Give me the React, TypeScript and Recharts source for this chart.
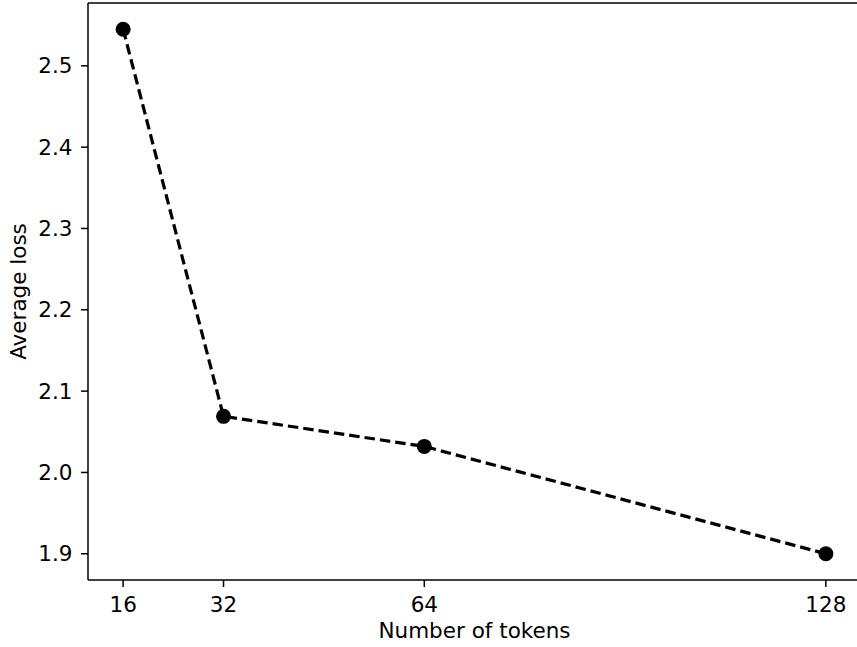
import React from 'react';
import { LineChart, Line, XAxis, YAxis, ReferenceLine } from 'recharts';

const tokens = [16, 32, 64, 128];
const avgLoss = [2.545, 2.069, 2.032, 1.9];
const xTicks = [16, 32, 64, 128];
const yTicks = [1.9, 2.0, 2.1, 2.2, 2.3, 2.4, 2.5];

const data = tokens.map((t, i) => ({ tokens: t, loss: avgLoss[i] }));

const FONT = 'DejaVu Sans';
const FS = 21.5;

const xMin = Math.min(...tokens);
const xMax = Math.max(...tokens);
const xPad = (xMax - xMin) * 0.05;
const yMin = Math.min(...avgLoss);
const yMax = Math.max(...avgLoss);
const yPad = (yMax - yMin) * 0.05;
const yTop = yMax + yPad;

const tickStyle = { fill: '#000', fontSize: FS, fontFamily: FONT };

const YLabel = (props: any) => {
  const vb = props.viewBox || {};
  const cy = vb.y + vb.height / 2;
  const x = 26;
  return (
    <text
      x={x}
      y={cy}
      transform={`rotate(-90, ${x}, ${cy})`}
      textAnchor="middle"
      fontSize={FS}
      fontFamily={FONT}
      fill="#000"
    >
      Average loss
    </text>
  );
};

const XLabel = (props: any) => {
  const vb = props.viewBox || {};
  const cx = vb.x + vb.width / 2;
  return (
    <text x={cx} y={638} textAnchor="middle" fontSize={FS} fontFamily={FONT} fill="#000">
      Number of tokens
    </text>
  );
};

export default function App() {
  return (
    <div
      style={{
        position: 'absolute',
        left: 0,
        top: 0,
        width: 857,
        height: 647,
        overflow: 'hidden',
        background: '#fff',
      }}
    >
      <LineChart
        width={870}
        height={647}
        data={data}
        margin={{ top: 3, right: 9, bottom: 0, left: 0 }}
      >
        <XAxis
          dataKey="tokens"
          type="number"
          domain={[xMin - xPad, xMax + xPad]}
          ticks={xTicks}
          interval={0}
          allowDataOverflow
          height={67}
          tickSize={7}
          tickMargin={10}
          tick={tickStyle}
          axisLine={{ stroke: '#000', strokeWidth: 1.5 }}
          tickLine={{ stroke: '#000', strokeWidth: 1.5 }}
          label={{ content: XLabel }}
        />
        <YAxis
          type="number"
          domain={[yMin - yPad, yTop]}
          ticks={yTicks}
          interval={0}
          allowDataOverflow
          width={88}
          tickSize={7}
          tickMargin={8.5}
          tick={tickStyle}
          tickFormatter={(v: number) => v.toFixed(1)}
          axisLine={{ stroke: '#000', strokeWidth: 1.5 }}
          tickLine={{ stroke: '#000', strokeWidth: 1.5 }}
          label={{ content: YLabel }}
        />
        <ReferenceLine y={yTop} stroke="#000" strokeWidth={1.5} ifOverflow="visible" />
        <Line
          dataKey="loss"
          type="linear"
          stroke="#000"
          strokeWidth={3.2}
          strokeDasharray="10.5 5"
          dot={{ r: 7.5, fill: '#000', stroke: 'none', strokeWidth: 0 }}
          activeDot={false}
          isAnimationActive={false}
        />
      </LineChart>
    </div>
  );
}
